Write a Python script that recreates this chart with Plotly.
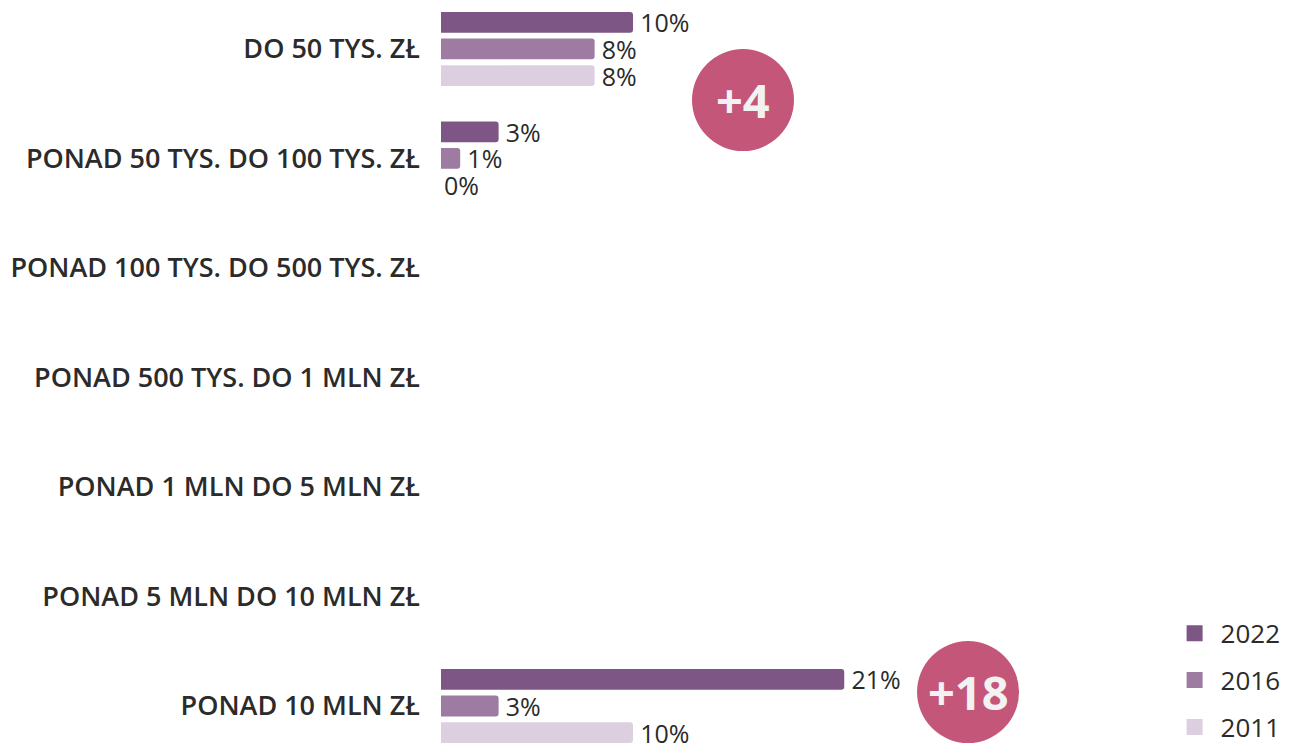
import plotly.graph_objects as go

categories = [
    "DO 50 TYS. ZŁ",
    "PONAD 50 TYS. DO 100 TYS. ZŁ",
    "PONAD 100 TYS. DO 500 TYS. ZŁ",
    "PONAD 500 TYS. DO 1 MLN ZŁ",
    "PONAD 1 MLN DO 5 MLN ZŁ",
    "PONAD 5 MLN DO 10 MLN ZŁ",
    "PONAD 10 MLN ZŁ",
]
years = ["2022", "2016", "2011"]
values_2022 = [10, 3, None, None, None, None, 21]
values_2016 = [8, 1, None, None, None, None, 3]
values_2011 = [8, 0, None, None, None, None, 10]
series_values = [values_2022, values_2016, values_2011]
colors = ["#7E5686", "#9E7BA0", "#DCD0E0"]

bubble_texts = ["+4", "+18"]
bubble_pos = [(0.3528, 0.8763), (0.6157, 0.0806)]


def label(v):
    if v is None:
        return ""
    return f"\u2009{v}%" if v else f"{v}%"


fig = go.Figure()
for yr, vals, col in zip(years, series_values, colors):
    fig.add_trace(go.Bar(
        y=categories, x=vals, orientation="h", name=yr,
        marker=dict(color=col, cornerradius=3, line=dict(width=0)),
        text=[label(v) for v in vals],
        textposition="outside", constraintext="none", cliponaxis=False,
        textfont=dict(family="Open Sans", size=25, color="#2b2b2b", weight=500),
        showlegend=False, hoverinfo="skip",
    ))
# legend entries
for yr, col in zip(years, colors):
    fig.add_trace(go.Scatter(
        x=[None], y=[None], mode="markers", name=yr, legendgroup=yr,
        marker=dict(symbol="square", size=18, color=col),
        showlegend=True,
    ))

shapes = []
annotations = []
for t, (px, py) in zip(bubble_texts, bubble_pos):
    shapes.append(dict(type="circle", xref="paper", yref="paper",
                       xsizemode="pixel", ysizemode="pixel",
                       xanchor=px, yanchor=py, x0=-51, x1=51, y0=-51, y1=51,
                       fillcolor="#C4567A", line=dict(width=0), layer="above"))
    annotations.append(dict(text=t, x=px, y=py, xref="paper", yref="paper",
                            showarrow=False, xanchor="center", yanchor="middle",
                            font=dict(family="Open Sans", size=47, color="#F2F2F2", weight="bold")))

fig.update_layout(
    width=1289, height=744,
    margin=dict(l=433, r=0, t=0, b=0, autoexpand=False),
    paper_bgcolor="white", plot_bgcolor="white",
    barmode="group", bargap=0.27, bargroupgap=0.22,
    xaxis=dict(range=[0, 44.58], visible=False, showgrid=False, zeroline=False),
    yaxis=dict(type="category", range=[6.42, -0.374], showgrid=False, zeroline=False,
               showline=False, ticks="", ticklabelstandoff=20, automargin=False,
               tickfont=dict(family="Open Sans", size=27, color="#2b2b2b", weight=600)),
    legend=dict(x=0.85, y=0.191, xanchor="left", yanchor="top",
                traceorder="grouped", tracegroupgap=10, itemwidth=42,
                font=dict(family="Open Sans", size=26, color="#2b2b2b"),
                bgcolor="rgba(0,0,0,0)"),
    shapes=shapes, annotations=annotations,
)
fig.write_html("out.html")
